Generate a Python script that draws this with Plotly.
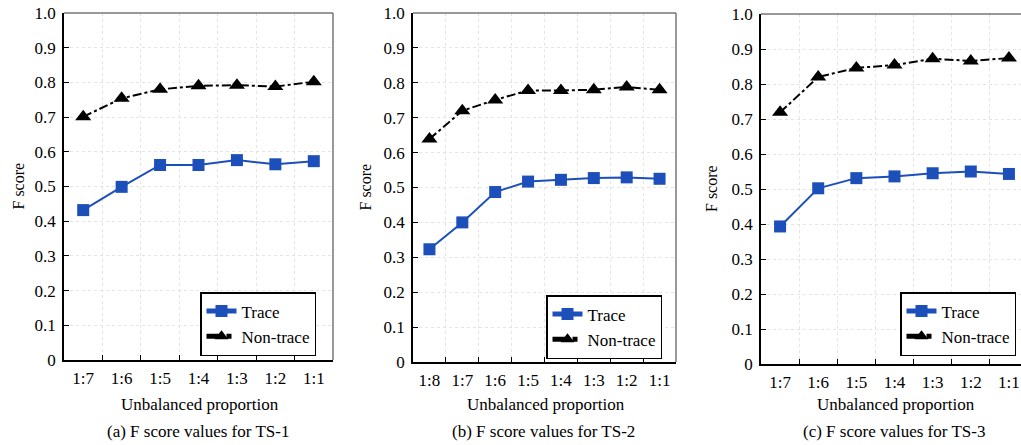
import plotly.graph_objects as go

W, H = 1021, 445

cats_a = ["1:7", "1:6", "1:5", "1:4", "1:3", "1:2", "1:1"]
trace_a = [0.432, 0.499, 0.562, 0.562, 0.576, 0.564, 0.573]
nontrace_a = [0.701, 0.754, 0.780, 0.790, 0.792, 0.788, 0.802]

cats_b = ["1:8", "1:7", "1:6", "1:5", "1:4", "1:3", "1:2", "1:1"]
trace_b = [0.323, 0.400, 0.487, 0.517, 0.522, 0.527, 0.529, 0.525]
nontrace_b = [0.639, 0.720, 0.751, 0.778, 0.778, 0.780, 0.788, 0.780]

cats_c = ["1:7", "1:6", "1:5", "1:4", "1:3", "1:2", "1:1"]
trace_c = [0.393, 0.502, 0.531, 0.536, 0.545, 0.550, 0.543]
nontrace_c = [0.719, 0.820, 0.846, 0.854, 0.872, 0.866, 0.874]

y_ticks = [0, 0.1, 0.2, 0.3, 0.4, 0.5, 0.6, 0.7, 0.8, 0.9, 1.0]
y_ticktext = ["0", "0.1", "0.2", "0.3", "0.4", "0.5", "0.6", "0.7", "0.8", "0.9", "1.0"]

subtitles = ["(a) F score values for TS-1", "(b) F score values for TS-2", "(c) F score values for TS-3"]
xlabel = "Unbalanced proportion"
ylabel = "F score"

BLUE = "#1c4fba"
FONT = "Liberation Serif"
FS = 17

# pixel layout of panels: (left, right, top, bottom)
panels = [
    (64, 333, 13, 360),
    (413, 676, 13, 362),
    (761, 1028, 14, 364),
]

def px(x):
    return x / W

def py(y):
    return (H - y) / H

fig = go.Figure()
data = [(cats_a, trace_a, nontrace_a), (cats_b, trace_b, nontrace_b), (cats_c, trace_c, nontrace_c)]
legend_names = ["legend", "legend2", "legend3"]

for i, (cats, tr, nt) in enumerate(data):
    xa = "x" if i == 0 else f"x{i+1}"
    ya = "y" if i == 0 else f"y{i+1}"
    fig.add_trace(go.Scatter(
        x=cats, y=tr, name="Trace", mode="lines+markers",
        line=dict(color=BLUE, width=2),
        marker=dict(symbol="square", size=12, color=BLUE),
        xaxis=xa, yaxis=ya, legend=legend_names[i],
    ))
    fig.add_trace(go.Scatter(
        x=cats, y=nt, name="Non-trace", mode="lines+markers",
        line=dict(color="black", width=2, dash="dashdot"),
        marker=dict(symbol="triangle-up", size=14, color="black"),
        xaxis=xa, yaxis=ya, legend=legend_names[i],
    ))

layout = dict(
    width=W, height=H,
    margin=dict(l=0, r=0, t=0, b=0, autoexpand=False),
    paper_bgcolor="white", plot_bgcolor="white",
    font=dict(family=FONT, size=FS, color="black"),
    showlegend=True,
)

annotations = []
shapes = []
for i, (l, r, t, b) in enumerate(panels):
    sfx = "" if i == 0 else str(i + 1)
    ncat = len(data[i][0])
    clip_r = min(r, W)
    dom_r = px(clip_r)
    rng_hi = -0.5 + ncat * (clip_r - l) / (r - l)
    layout["xaxis" + sfx] = dict(
        domain=[px(l), dom_r],
        anchor="y" + sfx,
        type="category",
        range=[-0.5, rng_hi],
        tickson="boundaries",
        ticks="inside", ticklen=5, tickcolor="black", tickwidth=1,
        showline=True, linecolor="black", linewidth=1.5,
        showgrid=True, gridcolor="#e4e4e4", griddash="dot", gridwidth=1,
        tickfont=dict(family=FONT, size=FS, color="black"),
        ticklabelstandoff=2,
        zeroline=False, fixedrange=True,
    )
    layout["yaxis" + sfx] = dict(
        domain=[py(b), py(t)],
        anchor="x" + sfx,
        range=[0, 1.0],
        tickvals=y_ticks, ticktext=y_ticktext,
        ticks="inside", ticklen=5, tickcolor="black", tickwidth=1,
        showline=True, linecolor="black", linewidth=1.5,
        showgrid=True, gridcolor="#e4e4e4", griddash="dot", gridwidth=1,
        tickfont=dict(family=FONT, size=FS, color="black"),
        ticklabelstandoff=3,
        zeroline=False, fixedrange=True,
    )
    # top and right frame (gray)
    shapes.append(dict(type="line", xref=f"x{sfx} domain", yref=f"y{sfx} domain",
                       x0=0, x1=1, y0=1, y1=1, line=dict(color="#777", width=1.5)))
    if r <= W:
        shapes.append(dict(type="line", xref=f"x{sfx} domain", yref=f"y{sfx} domain",
                           x0=1, x1=1, y0=0, y1=1, line=dict(color="#777", width=1.5)))
    cx = (l + r) / 2
    annotations.append(dict(text=xlabel, x=px(cx + 1), y=py(404), xref="paper", yref="paper",
                            showarrow=False, xanchor="center", yanchor="middle",
                            font=dict(family=FONT, size=FS, color="black")))
    annotations.append(dict(text=subtitles[i], x=px(cx - 1), y=py(431), xref="paper", yref="paper",
                            showarrow=False, xanchor="center", yanchor="middle",
                            font=dict(family=FONT, size=FS, color="black")))

ylab_x = [18, 365, 712]
for i, (l, r, t, b) in enumerate(panels):
    annotations.append(dict(text=ylabel, x=px(ylab_x[i]), y=py((t + b) / 2), xref="paper", yref="paper",
                            showarrow=False, textangle=-90, xanchor="center", yanchor="middle",
                            font=dict(family=FONT, size=FS - 1, color="black")))

legend_boxes = [(200, 292), (546, 295), (900, 292)]
for i, (lx, ly) in enumerate(legend_boxes):
    layout[legend_names[i]] = dict(
        x=px(lx), y=py(ly), xanchor="left", yanchor="top",
        bgcolor="white", bordercolor="black", borderwidth=1.5,
        font=dict(family=FONT, size=FS, color="black"),
        itemsizing="constant", tracegroupgap=0, itemwidth=30,
    )

layout["annotations"] = annotations
layout["shapes"] = shapes
fig.update_layout(**layout)

fig.write_html("out.html")
